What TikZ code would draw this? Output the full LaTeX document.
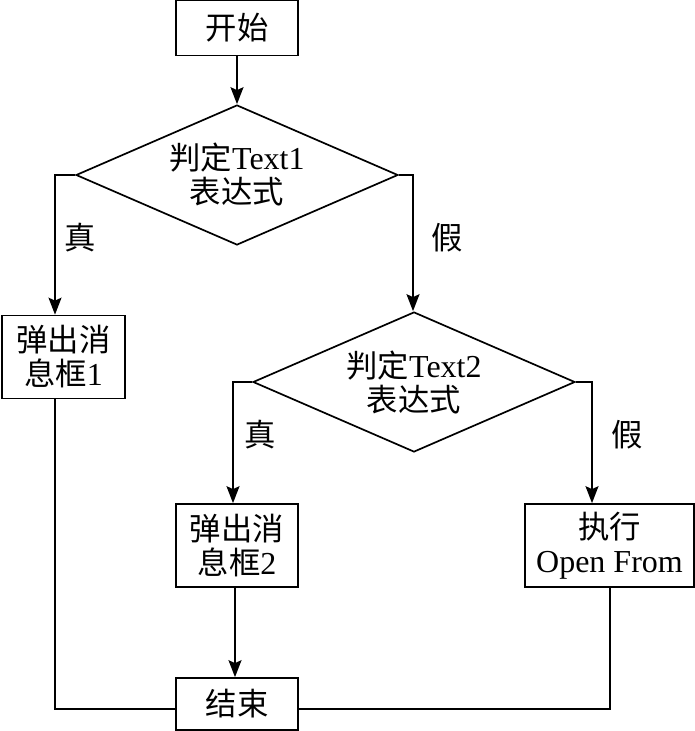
\documentclass[tikz,border=0pt]{standalone}
\usepackage{fontspec}
\setmainfont{Liberation Serif}
\newfontfamily\cjk{Noto Sans CJK SC}[Scale=0.98]
\usetikzlibrary{shapes.geometric,arrows.meta}
\begin{document}
\begin{tikzpicture}[x=1pt,y=-1pt,
  every node/.style={font=\fontsize{32}{34}\selectfont},
  box/.style={draw,line width=1.7pt,inner sep=0pt,align=center},
  dec/.style={draw,diamond,line width=1.7pt,inner sep=0pt,aspect=2.3,minimum width=322pt,minimum height=140pt,align=center},
  line/.style={line width=1.7pt},
  arr/.style={line,-{Stealth[length=17pt,width=13pt,inset=3pt]}},
  lab/.style={inner sep=0pt}]
\useasboundingbox (0,0) rectangle (695,731);
\node[box,minimum width=122pt,minimum height=55pt] (start) at (237,28) {\cjk 开始};
\node[dec] (d1) at (237,175) {{\cjk 判定}Text1\\{\cjk 表达式}};
\node[box,minimum width=123pt,minimum height=83pt] (b1) at (63.5,357) {{\cjk 弹出消}\\{\cjk 息框}1};
\node[dec] (d2) at (414,382) {{\cjk 判定}Text2\\{\cjk 表达式}};
\node[box,minimum width=122pt,minimum height=83pt] (b2) at (237,545.5) {{\cjk 弹出消}\\{\cjk 息框}2};
\node[box,minimum width=169pt,minimum height=83pt] (b3) at (609.5,545.5) {{\cjk 执行}\\Open From};
\node[box,minimum width=122pt,minimum height=52pt] (end) at (237,704) {\cjk 结束};
\node[lab] (t1) at (80,238) {\cjk 真};
\node[lab] (f1) at (447,238) {\cjk 假};
\node[lab] (t2) at (260,435) {\cjk 真};
\node[lab] (f2) at (627,435) {\cjk 假};
\coordinate (c1) at (55,175);
\coordinate (c2) at (413,175);
\coordinate (c3) at (233,382);
\coordinate (c4) at (592,382);
\coordinate (c5) at (55,709);
\coordinate (c6) at (610,709);
\coordinate (c7) at (235,587);
\draw[arr] (start.south) -- (d1.north);
\draw[arr] (d1.west) -- (c1) -- (c1 |- b1.north);
\draw[arr] (d1.east) -- (c2) -- (c2 |- d2.north);
\draw[arr] (d2.west) -- (c3) -- (c3 |- b2.north);
\draw[arr] (d2.east) -- (c4) -- (c4 |- b3.north);
\draw[arr] (c7) -- (c7 |- end.north);
\draw[line] (c1 |- b1.south) -- (c5) -- (c5 -| end.west);
\draw[line] (c6 |- b3.south) -- (c6) -- (c6 -| end.east);
\end{tikzpicture}
\end{document}
